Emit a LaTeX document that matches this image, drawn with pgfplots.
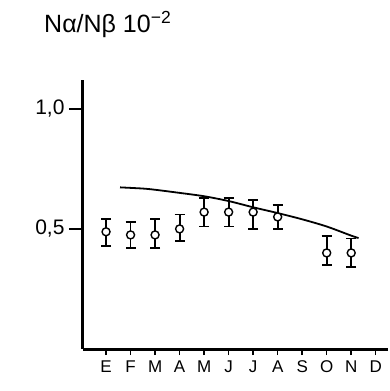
\documentclass[border=0pt]{standalone}
\usepackage{pgfplots}
\pgfplotsset{compat=1.18}
\usepackage{fontspec}
\setmainfont{Liberation Sans}
\begin{document}
\begin{tikzpicture}[x=1pt,y=1pt]
\path (0,0) rectangle (390,391);
\node[anchor=base west,font=\fontsize{25}{27}\selectfont,inner sep=0pt] at (44,358) {Nα/Nβ 10\textsuperscript{−2}};
\begin{axis}[
  at={(83pt,42pt)}, anchor=origin,
  scale only axis, width=305pt, height=269pt,
  xmin=0.06, xmax=12.5, ymin=0, ymax=1.12,
  axis x line=bottom, axis y line=left,
  axis line style={line width=3pt,-},
  xtick={1,...,12},
  xticklabels={E,F,M,A,M,J,J,A,S,O,N,D},
  ytick=\empty,
  extra y ticks={0.5,1.0},
  extra y tick labels={0{,}5,1{,}0},
  extra y tick style={major tick length=14pt},
  minor ytick={0.1,0.2,0.3,0.4,0.6,0.7,0.8,0.9},
  tick align=outside,
  major tick length=6pt, minor tick length=6pt,
  every tick/.style={line width=1.5pt,black},
  yticklabel style={font=\fontsize{21}{23}\selectfont, xshift=-1pt},
  xticklabel style={font=\fontsize{17}{19}\selectfont, text height=12.5pt, text depth=0pt, yshift=-1pt},
  /pgf/number format/assume math mode=true,
  clip=false,
]
\addplot[black, line width=1.8pt, smooth] coordinates {
 (1.57,0.673) (2.5,0.668) (3,0.663) (4,0.650) (5,0.636) (6,0.616) (7,0.590)
 (8,0.566) (9,0.540) (10,0.510) (11,0.472) (11.3,0.462)
};
\addplot[black, only marks, line width=1.4pt,
  mark=*, mark size=4pt, mark options={fill=white, line width=1.4pt},
  error bars/.cd, y dir=both, y explicit,
  error bar style={line width=1.8pt},
  error mark options={rotate=90, mark size=5pt, line width=1.8pt}]
coordinates {
 (1,0.488) += (0,0.052) -= (0,0.058)
 (2,0.475) += (0,0.055) -= (0,0.055)
 (3,0.475) += (0,0.065) -= (0,0.055)
 (4,0.500) += (0,0.060) -= (0,0.050)
 (5,0.570) += (0,0.060) -= (0,0.060)
 (6,0.570) += (0,0.060) -= (0,0.060)
 (7,0.570) += (0,0.050) -= (0,0.070)
 (8,0.550) += (0,0.050) -= (0,0.050)
 (10,0.400) += (0,0.070) -= (0,0.050)
 (11,0.400) += (0,0.060) -= (0,0.060)
};
\end{axis}
\end{tikzpicture}
\end{document}
